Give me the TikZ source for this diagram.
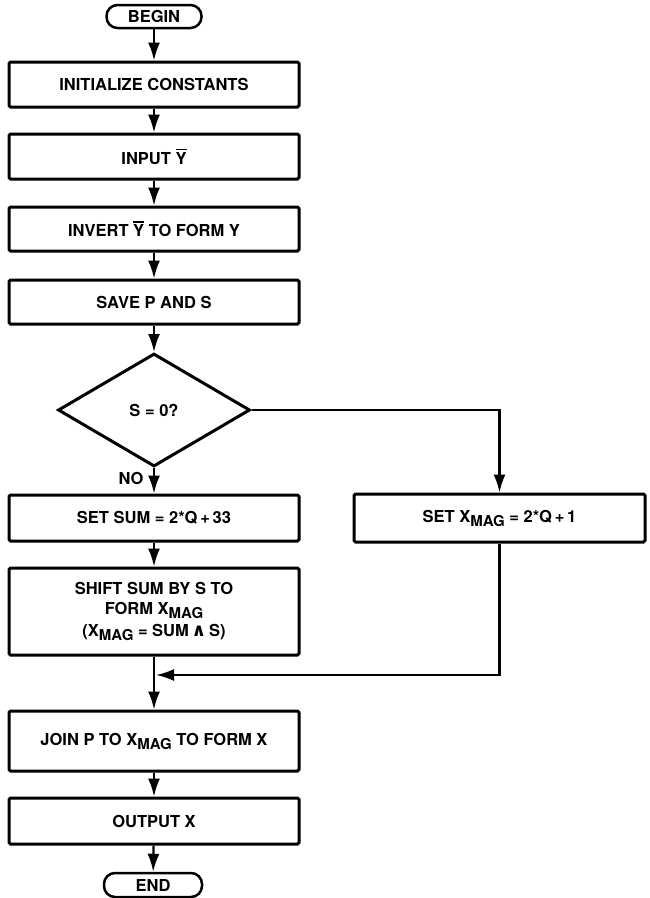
\documentclass[tikz,border=0pt]{standalone}
\usepackage{fontspec}
\setmainfont{TeX Gyre Heros}
\newfontfamily\djv{DejaVu Sans}
\usetikzlibrary{shapes.geometric,arrows.meta}
\newcommand\sbmag{\raisebox{-4pt}{\fontsize{15}{15}\selectfont MAG}}
\newcommand\ybar{\leavevmode\vbox{\hrule height 1.6pt\kern2pt\hbox{Y}}}
\newcommand\andsym{\,{\djv\bfseries\fontsize{18}{17}\selectfont ∧}\,}
\begin{document}
\begin{tikzpicture}[x=1pt,y=-1pt,
  every node/.style={font=\fontsize{16.5}{20}\selectfont\bfseries},
  proc/.style={draw,line width=3pt,rounded corners=1.5pt,minimum width=290pt,inner sep=2pt,align=center},
  term/.style={draw,line width=2.5pt,rounded corners=11pt,inner sep=0pt},
  dec/.style={draw,diamond,line width=3pt,inner sep=0pt,minimum width=192pt,minimum height=113pt},
  conn/.style={line width=2.2pt,-{Latex[length=18pt,width=12pt]}}]
\useasboundingbox (0,0) rectangle (650,898);
\node[term,minimum width=95pt,minimum height=23pt] (begin) at (154,16.5) {BEGIN};
\node[proc,minimum height=45pt] (init) at (154,84.5) {INITIALIZE CONSTANTS};
\node[proc,minimum height=45pt] (input) at (154,156.5) {INPUT \ybar};
\node[proc,minimum height=44pt] (invert) at (154,229) {INVERT \ybar{} TO FORM Y};
\node[proc,minimum height=44pt] (save) at (154,302) {SAVE P AND S};
\node[dec] (dec) at (154,410) {S = 0?};
\node (no) at (131,478) {NO};
\node[proc,minimum height=46pt] (setsum) at (154,518) {SET SUM = 2*Q\,+\,33};
\node[proc,minimum height=87pt] (shift) at (154,611.5) {SHIFT SUM BY S TO\\FORM X\sbmag\\[2pt](X\sbmag{} = SUM\andsym S)};
\node[proc,minimum width=291pt,minimum height=48pt] (setx) at (499.5,518) {SET X\sbmag{} = 2*Q\,+\,1};
\node[proc,minimum height=60pt] (join) at (154,741) {JOIN P TO X\sbmag{} TO FORM X};
\node[proc,minimum height=46pt] (output) at (154,821) {OUTPUT X};
\node[term,minimum width=98pt,minimum height=24pt] (end) at (153,885) {END};
\coordinate (merge) at (156,675);
\draw[conn] (begin) -- (init);
\draw[conn] (init) -- (input);
\draw[conn] (input) -- (invert);
\draw[conn] (invert) -- (save);
\draw[conn] (save) -- (dec);
\draw[conn] (dec) -- (setsum);
\draw[conn] (setsum) -- (shift);
\draw[conn] (dec.east) -| (setx.north);
\draw[conn] (setx.south) |- (merge);
\draw[conn] (shift) -- (join);
\draw[conn] (join) -- (output);
\draw[conn] (output) -- (end);
\end{tikzpicture}
\end{document}
